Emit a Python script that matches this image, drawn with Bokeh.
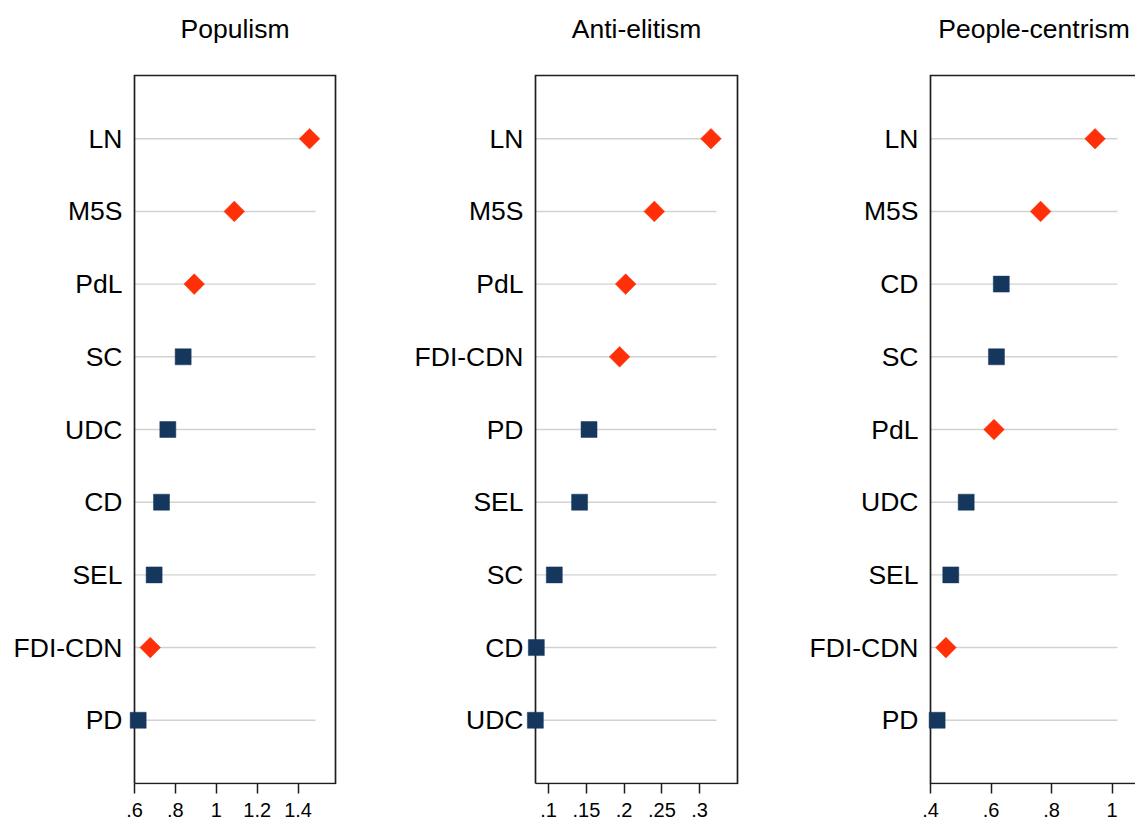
import math
from bokeh.plotting import figure
from bokeh.layouts import row
from bokeh.models import Range1d, FixedTicker, ColumnDataSource, Label
from bokeh.embed import file_html
from bokeh.resources import INLINE

# ---------------- data ----------------
titles = ["Populism", "Anti-elitism", "People-centrism"]

populism_parties = ["LN", "M5S", "PdL", "SC", "UDC", "CD", "SEL", "FDI-CDN", "PD"]
populism_values = [1.456, 1.088, 0.892, 0.838, 0.763, 0.732, 0.696, 0.677, 0.618]
populism_populist = [True, True, True, False, False, False, False, True, False]

antielite_parties = ["LN", "M5S", "PdL", "FDI-CDN", "PD", "SEL", "SC", "CD", "UDC"]
antielite_values = [0.315, 0.240, 0.202, 0.194, 0.1535, 0.141, 0.1075, 0.0837, 0.0824]
antielite_populist = [True, True, True, True, False, False, False, False, False]

people_parties = ["LN", "M5S", "CD", "SC", "PdL", "UDC", "SEL", "FDI-CDN", "PD"]
people_values = [0.944, 0.764, 0.634, 0.618, 0.610, 0.518, 0.467, 0.451, 0.422]
people_populist = [True, True, False, False, True, False, False, True, False]

populism_ticks = [0.6, 0.8, 1.0, 1.2, 1.4]
populism_tick_labels = [".6", ".8", "1", "1.2", "1.4"]
antielite_ticks = [0.1, 0.15, 0.2, 0.25, 0.3]
antielite_tick_labels = [".1", ".15", ".2", ".25", ".3"]
people_ticks = [0.4, 0.6, 0.8, 1.0]
people_tick_labels = [".4", ".6", ".8", "1"]

# axis minimum (left edge of the plot box) and axis scale for each panel
populism_axis_min, populism_px_per_unit = 0.6, 204.5
antielite_axis_min, antielite_px_per_unit = 0.0826, 755.0
people_axis_min, people_px_per_unit = 0.4, 302.5

# ---------------- style / layout ----------------
RED = "#FF3008"
NAVY = "#16375D"
FRAME = "#1e1e1e"
GRID = "#d2d2d2"
FONT = "Liberation Sans"
H = 821
BOX_TOP = 75          # px from page top
BOX_H = 708           # px
PAD_LEFT = 10         # frame extends left of the visible box so edge markers are not clipped
PAD_V = 1
Y_MARGIN = 0.87       # category units above first / below last row
TITLE_RISE = 47       # px from box top to title middle


def make_panel(title, parties, values, populist, ticks, tick_labels,
               axis_min, ppu, fig_w, border_left, box_w, pad_right,
               grid_gap, title_cx_px, box_closed=True):
    n = len(parties)
    ypos = [n - i for i in range(n)]
    frame_w = PAD_LEFT + box_w + pad_right
    border_right = fig_w - border_left - frame_w
    x_start = axis_min - PAD_LEFT / ppu
    x_end = axis_min + (box_w + pad_right) / ppu
    box_right = axis_min + box_w / ppu

    y_lo = 1 - Y_MARGIN
    y_hi = n + Y_MARGIN
    ppy = BOX_H / (y_hi - y_lo)

    # the frame reaches the top of the page so the title lives inside it
    p = figure(width=fig_w, height=H, output_backend="svg", toolbar_location=None,
               x_range=Range1d(x_start, x_end),
               y_range=Range1d(y_lo - PAD_V / ppy, y_hi + BOX_TOP / ppy),
               min_border_left=border_left, min_border_right=border_right,
               min_border_top=0,
               min_border_bottom=H - (BOX_TOP + BOX_H + PAD_V))
    p.xgrid.visible = False
    p.ygrid.visible = False
    p.outline_line_color = None
    p.background_fill_color = "white"
    p.border_fill_color = "white"

    # x axis
    xa = p.xaxis[0]
    xa.ticker = FixedTicker(ticks=ticks)
    xa.major_label_overrides = {t: l for t, l in zip(ticks, tick_labels)}
    xa.axis_line_color = None
    xa.minor_tick_line_color = None
    xa.major_tick_in = PAD_V
    xa.major_tick_out = 9
    xa.major_tick_line_color = FRAME
    xa.major_tick_line_width = 1.5
    xa.major_label_standoff = 9
    xa.major_label_text_line_height = 0.8
    xa.major_label_text_font = FONT
    xa.major_label_text_font_size = "20px"
    xa.major_label_text_color = "black"

    # y axis
    ya = p.yaxis[0]
    ya.ticker = FixedTicker(ticks=ypos)
    ya.major_label_overrides = {y: name for y, name in zip(ypos, parties)}
    ya.axis_line_color = None
    ya.minor_tick_line_color = None
    ya.major_tick_line_color = None
    ya.major_tick_in = 0
    ya.major_tick_out = 0
    ya.major_label_standoff = 12 - PAD_LEFT
    ya.major_label_text_font = FONT
    ya.major_label_text_font_size = "26.5px"
    ya.major_label_text_color = "black"

    # horizontal guide lines
    grid_end = box_right - grid_gap / ppu
    p.segment(x0=[axis_min] * n, y0=ypos, x1=[grid_end] * n, y1=ypos,
              line_color=GRID, line_width=1.4)

    # plot box (left, top, bottom; right edge only when it is inside the page)
    if box_closed:
        bx = [axis_min, axis_min, box_right, box_right, axis_min]
        by = [y_lo, y_hi, y_hi, y_lo, y_lo]
    else:
        bx = [x_end, axis_min, axis_min, x_end]
        by = [y_hi, y_hi, y_lo, y_lo]
    p.line(bx, by, line_color=FRAME, line_width=1.7, line_join="miter")

    # markers
    red = ColumnDataSource(dict(
        x=[v for v, f in zip(values, populist) if f],
        y=[y for y, f in zip(ypos, populist) if f]))
    blue = ColumnDataSource(dict(
        x=[v for v, f in zip(values, populist) if not f],
        y=[y for y, f in zip(ypos, populist) if not f]))
    p.scatter("x", "y", source=blue, marker="square", size=16,
              fill_color=NAVY, line_color=NAVY, line_width=0.5)
    p.scatter("x", "y", source=red, marker="square", size=14.6, angle=math.pi / 4,
              fill_color=RED, line_color=RED, line_width=0.5)

    # title
    p.add_layout(Label(x=axis_min + title_cx_px / ppu, y=y_hi, y_offset=TITLE_RISE,
                       text=title, text_align="center", text_baseline="middle",
                       text_font=FONT, text_font_size="26.5px",
                       text_color="black"))
    return p


p1 = make_panel(titles[0], populism_parties, populism_values, populism_populist,
                populism_ticks, populism_tick_labels,
                populism_axis_min, populism_px_per_unit,
                fig_w=408, border_left=124, box_w=201, pad_right=2,
                grid_gap=20, title_cx_px=100.5)
p2 = make_panel(titles[1], antielite_parties, antielite_values, antielite_populist,
                antielite_ticks, antielite_tick_labels,
                antielite_axis_min, antielite_px_per_unit,
                fig_w=396, border_left=117, box_w=202, pad_right=2,
                grid_gap=21, title_cx_px=101)
p3 = make_panel(titles[2], people_parties, people_values, people_populist,
                people_ticks, people_tick_labels,
                people_axis_min, people_px_per_unit,
                fig_w=331, border_left=116, box_w=205, pad_right=0,
                grid_gap=18, title_cx_px=103.5, box_closed=False)

layout = row(p1, p2, p3, spacing=0)
open("out.html", "w").write(file_html(layout, INLINE))
